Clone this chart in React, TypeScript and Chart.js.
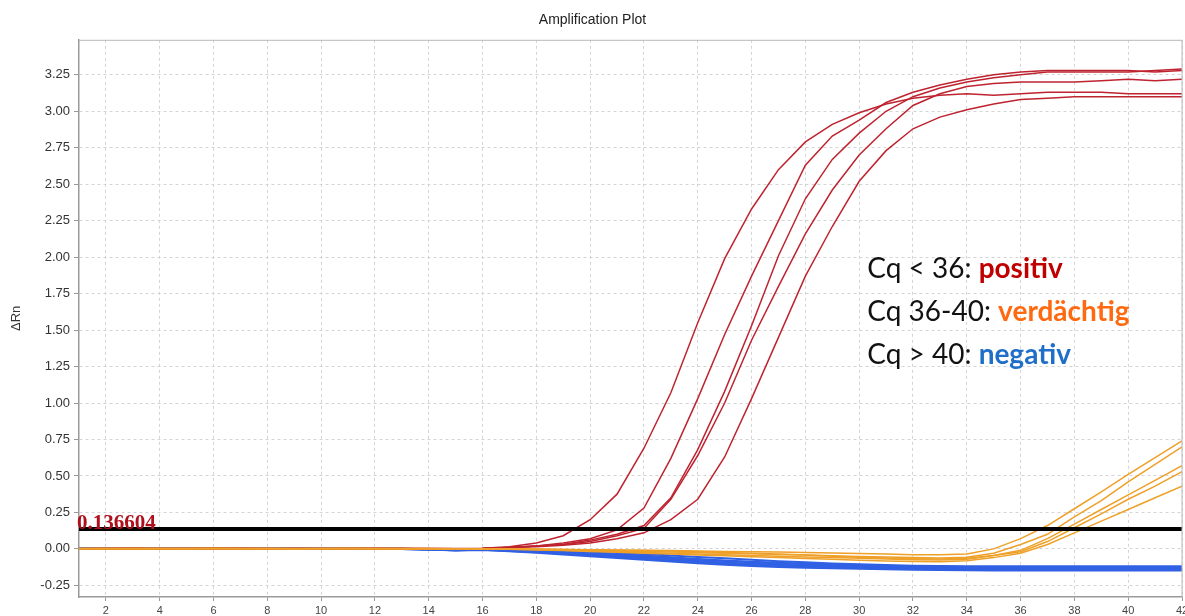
import React, { useEffect, useRef } from "react";
import { Chart, registerables } from "chart.js";

Chart.register(...registerables);

// ---- data ----
const cycles = [1, 2, 3, 4, 5, 6, 7, 8, 9, 10, 11, 12, 13, 14, 15, 16, 17, 18, 19, 20, 21, 22, 23, 24, 25, 26, 27, 28, 29, 30, 31, 32, 33, 34, 35, 36, 37, 38, 39, 40, 41, 42];

const xTickValues = [2, 4, 6, 8, 10, 12, 14, 16, 18, 20, 22, 24, 26, 28, 30, 32, 34, 36, 38, 40, 42];
const yTickValues = [-0.25, 0, 0.25, 0.5, 0.75, 1.0, 1.25, 1.5, 1.75, 2.0, 2.25, 2.5, 2.75, 3.0, 3.25];

const threshold = 0.136604;

// positive (red) samples
const redA = [0.0, 0.002, 0.004, 0.001, -0.002, 0.003, 0.005, 0.002, 0.0, 0.001, 0.003, 0.004, 0.002, 0.001, 0.002, 0.005, 0.015, 0.04, 0.09, 0.2, 0.375, 0.69, 1.07, 1.55, 1.99, 2.33, 2.6, 2.79, 2.91, 2.99, 3.05, 3.09, 3.11, 3.12, 3.11, 3.12, 3.13, 3.13, 3.13, 3.12, 3.12, 3.12];
const redB = [0.001, 0.003, 0.002, 0.0, 0.002, 0.004, 0.001, -0.001, 0.002, 0.003, 0.001, 0.002, 0.003, 0.0, 0.001, 0.003, 0.01, 0.02, 0.04, 0.07, 0.13, 0.28, 0.62, 1.03, 1.47, 1.87, 2.25, 2.63, 2.83, 2.94, 3.06, 3.13, 3.18, 3.22, 3.25, 3.27, 3.28, 3.28, 3.28, 3.28, 3.27, 3.28];
const redC = [0.002, 0.001, 0.003, 0.002, 0.0, 0.002, 0.003, 0.001, 0.002, 0.0, 0.002, 0.003, 0.001, 0.002, 0.001, 0.003, 0.01, 0.02, 0.03, 0.06, 0.1, 0.16, 0.35, 0.68, 1.08, 1.53, 2.01, 2.4, 2.67, 2.85, 3.0, 3.1, 3.16, 3.2, 3.23, 3.25, 3.27, 3.27, 3.27, 3.27, 3.28, 3.29];
const redD = [0.001, 0.002, 0.0, 0.003, 0.002, 0.001, 0.002, 0.003, 0.001, 0.002, 0.0, 0.001, 0.002, 0.001, 0.0, 0.002, 0.01, 0.02, 0.03, 0.05, 0.09, 0.14, 0.34, 0.64, 1.0, 1.43, 1.8, 2.16, 2.46, 2.7, 2.88, 3.04, 3.12, 3.17, 3.19, 3.2, 3.2, 3.2, 3.21, 3.22, 3.21, 3.22];
const redE = [0.0, 0.001, 0.002, 0.001, 0.003, 0.002, 0.0, 0.001, 0.002, 0.001, 0.002, 0.0, 0.001, 0.002, 0.001, 0.002, 0.01, 0.015, 0.025, 0.04, 0.07, 0.11, 0.2, 0.34, 0.63, 1.03, 1.45, 1.87, 2.21, 2.52, 2.73, 2.88, 2.96, 3.01, 3.05, 3.08, 3.09, 3.1, 3.1, 3.1, 3.1, 3.1];

// suspicious (orange) samples
const orange1 = [0.002, 0.001, 0.003, 0.002, 0.0, 0.002, 0.003, 0.002, 0.001, 0.002, 0.003, 0.001, 0.002, 0.0, 0.001, 0.001, 0.0, -0.002, -0.004, -0.006, -0.008, -0.01, -0.012, -0.015, -0.018, -0.02, -0.022, -0.025, -0.028, -0.032, -0.036, -0.04, -0.04, -0.035, 0.0, 0.07, 0.16, 0.275, 0.39, 0.51, 0.625, 0.74];
const orange2 = [0.001, 0.002, 0.002, 0.001, 0.002, 0.003, 0.001, 0.0, 0.002, 0.001, 0.002, 0.002, 0.001, 0.001, 0.0, 0.0, 0.0, -0.003, -0.006, -0.01, -0.014, -0.018, -0.022, -0.026, -0.03, -0.034, -0.038, -0.042, -0.047, -0.052, -0.056, -0.06, -0.062, -0.058, -0.03, 0.03, 0.1, 0.22, 0.33, 0.46, 0.58, 0.7];
const orange3 = [0.0, 0.002, 0.001, 0.003, 0.001, 0.002, 0.002, 0.001, 0.003, 0.002, 0.001, 0.002, 0.0, 0.001, 0.001, -0.001, -0.002, -0.005, -0.01, -0.015, -0.02, -0.025, -0.03, -0.035, -0.04, -0.045, -0.05, -0.055, -0.06, -0.065, -0.07, -0.075, -0.077, -0.072, -0.045, -0.01, 0.07, 0.17, 0.27, 0.37, 0.47, 0.57];
const orange4 = [0.002, 0.003, 0.001, 0.002, 0.002, 0.001, 0.003, 0.002, 0.001, 0.002, 0.002, 0.003, 0.001, 0.002, 0.0, 0.001, 0.0, -0.002, -0.004, -0.007, -0.01, -0.012, -0.015, -0.02, -0.025, -0.03, -0.035, -0.042, -0.05, -0.057, -0.063, -0.068, -0.07, -0.065, -0.045, -0.02, 0.05, 0.145, 0.24, 0.34, 0.43, 0.53];
const orange5 = [0.001, 0.0, 0.002, 0.001, 0.003, 0.002, 0.001, 0.002, 0.0, 0.001, 0.002, 0.001, 0.002, 0.001, -0.001, -0.002, -0.003, -0.007, -0.012, -0.018, -0.024, -0.03, -0.036, -0.042, -0.048, -0.054, -0.06, -0.066, -0.072, -0.078, -0.083, -0.087, -0.088, -0.082, -0.06, -0.03, 0.03, 0.11, 0.19, 0.27, 0.35, 0.43];

// negative (blue) samples
const blue1 = [0.001, 0.002, 0.001, 0.0, 0.002, 0.001, 0.002, 0.001, 0.0, 0.001, 0.002, 0.001, 0.0, -0.003, -0.006, -0.002, -0.005, -0.01, -0.015, -0.02, -0.028, -0.035, -0.045, -0.055, -0.065, -0.075, -0.085, -0.092, -0.1, -0.105, -0.11, -0.115, -0.118, -0.12, -0.12, -0.12, -0.12, -0.12, -0.12, -0.12, -0.12, -0.12];
const blue2 = [0.0, 0.001, 0.002, 0.001, 0.0, 0.002, 0.001, 0.0, 0.001, 0.002, 0.001, 0.0, -0.001, -0.004, -0.008, -0.003, -0.008, -0.015, -0.022, -0.03, -0.038, -0.045, -0.058, -0.07, -0.08, -0.088, -0.096, -0.102, -0.108, -0.113, -0.117, -0.12, -0.123, -0.125, -0.126, -0.127, -0.127, -0.127, -0.127, -0.127, -0.127, -0.127];
const blue3 = [0.001, 0.0, 0.001, 0.002, 0.001, 0.0, 0.001, 0.002, 0.001, 0.0, 0.001, 0.001, 0.0, -0.003, -0.007, -0.004, -0.01, -0.018, -0.026, -0.034, -0.042, -0.05, -0.062, -0.074, -0.084, -0.092, -0.1, -0.106, -0.112, -0.117, -0.121, -0.125, -0.128, -0.13, -0.132, -0.133, -0.133, -0.133, -0.133, -0.133, -0.133, -0.133];
const blue4 = [0.002, 0.001, 0.0, 0.001, 0.002, 0.001, 0.0, 0.001, 0.002, 0.001, 0.0, 0.001, 0.0, -0.004, -0.009, -0.005, -0.012, -0.02, -0.03, -0.04, -0.05, -0.06, -0.072, -0.084, -0.094, -0.102, -0.109, -0.115, -0.12, -0.124, -0.128, -0.131, -0.134, -0.136, -0.137, -0.138, -0.138, -0.138, -0.138, -0.138, -0.138, -0.138];
const blue5 = [0.0, 0.001, 0.001, 0.0, 0.001, 0.002, 0.001, 0.0, 0.001, 0.001, 0.0, 0.001, -0.001, -0.005, -0.01, -0.006, -0.014, -0.024, -0.034, -0.045, -0.056, -0.067, -0.08, -0.092, -0.102, -0.11, -0.117, -0.122, -0.127, -0.131, -0.135, -0.138, -0.14, -0.142, -0.143, -0.143, -0.143, -0.143, -0.143, -0.143, -0.143, -0.143];
const blue6 = [0.001, 0.0, 0.002, 0.001, 0.0, 0.001, 0.002, 0.001, 0.0, 0.001, 0.001, 0.0, -0.001, -0.005, -0.011, -0.007, -0.016, -0.027, -0.038, -0.05, -0.062, -0.074, -0.087, -0.099, -0.109, -0.117, -0.124, -0.129, -0.133, -0.137, -0.14, -0.143, -0.145, -0.147, -0.148, -0.148, -0.148, -0.148, -0.148, -0.148, -0.148, -0.148];

const redSeries = [redA, redB, redC, redD, redE];
const orangeSeries = [orange1, orange2, orange3, orange4, orange5];
const blueSeries = [blue1, blue2, blue3, blue4, blue5, blue6];

const annotX = 30.3;
const annotY = [1.86, 1.56, 1.27];
const annotLines = [
  { prefix: "Cq < 36: ", word: "positiv", color: "#c00000" },
  { prefix: "Cq 36-40: ", word: "verdächtig", color: "#ff6a10" },
  { prefix: "Cq > 40: ", word: "negativ", color: "#1f6fc8" },
];

const SANS = "'Liberation Sans', Arial, sans-serif";

const toPoints = (vals: number[]) => cycles.map((c, i) => ({ x: c, y: vals[i] }));

const overlayPlugin = {
  id: "overlay",
  afterDatasetsDraw(chart: any) {
    const { ctx, chartArea, scales } = chart;
    const xs = scales.x;
    const ys = scales.y;
    ctx.save();
    // frame top/right
    ctx.strokeStyle = "#b8b8b8";
    ctx.lineWidth = 1;
    ctx.beginPath();
    ctx.moveTo(chartArea.left, chartArea.top + 0.5);
    ctx.lineTo(chartArea.right, chartArea.top + 0.5);
    ctx.lineTo(chartArea.right, chartArea.bottom);
    ctx.stroke();

    // threshold label
    const ty = ys.getPixelForValue(threshold);
    ctx.font = "bold 21px 'Liberation Serif', 'Times New Roman', serif";
    ctx.fillStyle = "#b0101c";
    ctx.textAlign = "left";
    ctx.textBaseline = "alphabetic";
    ctx.fillText(String(threshold), chartArea.left - 2, ty);

    // annotation
    const ax = xs.getPixelForValue(annotX);
    annotLines.forEach((ln, i) => {
      const ay = ys.getPixelForValue(annotY[i]);
      ctx.font = "28px Lato, 'Open Sans', sans-serif";
      ctx.fillStyle = "#111";
      ctx.fillText(ln.prefix, ax, ay);
      const w = ctx.measureText(ln.prefix).width;
      ctx.font = "bold 28px Lato, 'Open Sans', sans-serif";
      ctx.fillStyle = ln.color;
      ctx.fillText(ln.word, ax + w, ay);
    });
    ctx.restore();
  },
};

export default function App() {
  const ref = useRef<HTMLCanvasElement | null>(null);

  useEffect(() => {
    if (!ref.current) return;
    const datasets: any[] = [];
    datasets.push({
      data: [
        { x: cycles[0], y: threshold },
        { x: cycles[cycles.length - 1], y: threshold },
      ],
      borderColor: "#000",
      borderWidth: 4,
      pointRadius: 0,
      order: 0,
    });
    orangeSeries.forEach((s) =>
      datasets.push({ data: toPoints(s), borderColor: "rgb(238,160,40)", borderWidth: 1.5, pointRadius: 0, order: 1 })
    );
    redSeries.forEach((s) =>
      datasets.push({ data: toPoints(s), borderColor: "rgb(190,36,48)", borderWidth: 1.5, pointRadius: 0, order: 2 })
    );
    blueSeries.forEach((s) =>
      datasets.push({ data: toPoints(s), borderColor: "rgb(48,96,228)", borderWidth: 2, pointRadius: 0, order: 3 })
    );

    const chart = new Chart(ref.current, {
      type: "line",
      data: { datasets },
      plugins: [overlayPlugin],
      options: {
        animation: false,
        responsive: false,
        devicePixelRatio: 1,
        events: [],
        layout: { padding: { right: 0, left: 0, top: 0, bottom: 0 } },
        elements: { line: { tension: 0, fill: false } },
        plugins: {
          legend: { display: false },
          tooltip: { enabled: false },
          title: {
            display: true,
            text: "Amplification Plot",
            color: "#222",
            font: { family: SANS, size: 14, weight: "normal" },
            padding: { top: 12, bottom: 11 },
          },
        },
        scales: {
          x: {
            type: "linear",
            min: cycles[0],
            max: cycles[cycles.length - 1],
            afterBuildTicks: (s: any) => {
              s.ticks = xTickValues.map((v) => ({ value: v }));
            },
            afterFit: (s: any) => {
              s.height = 19;
              s.paddingRight = 3;
            },
            ticks: {
              color: "#444",
              font: { family: SANS, size: 11 },
              padding: 3,
              maxRotation: 0,
              autoSkip: false,
            },
            grid: {
              color: "#d4d4d4",
              tickColor: "#999",
              tickLength: 4,
              lineWidth: 1,
            },
            border: { color: "#9a9a9a", width: 1.5, dash: [3, 3] },
          },
          y: {
            type: "linear",
            min: -0.33,
            max: 3.49,
            afterBuildTicks: (s: any) => {
              s.ticks = yTickValues.map((v) => ({ value: v }));
            },
            afterFit: (s: any) => {
              s.width = 79;
            },
            ticks: {
              color: "#333",
              font: { family: SANS, size: 13 },
              padding: 4,
              callback: (v: any) => Number(v).toFixed(2),
            },
            grid: {
              color: "#d4d4d4",
              tickColor: "#999",
              tickLength: 5,
              lineWidth: 1,
            },
            border: { color: "#9a9a9a", width: 1.5, dash: [3, 3] },
            title: {
              display: true,
              text: "ΔRn",
              color: "#333",
              font: { family: SANS, size: 13 },
              padding: { top: 9, bottom: 0 },
            },
          },
        },
      },
    } as any);

    return () => chart.destroy();
  }, []);

  return (
    <div style={{ position: "absolute", left: 0, top: 0, width: 1185, height: 616, background: "#fff" }}>
      <canvas ref={ref} width={1185} height={616} style={{ display: "block" }} />
    </div>
  );
}
